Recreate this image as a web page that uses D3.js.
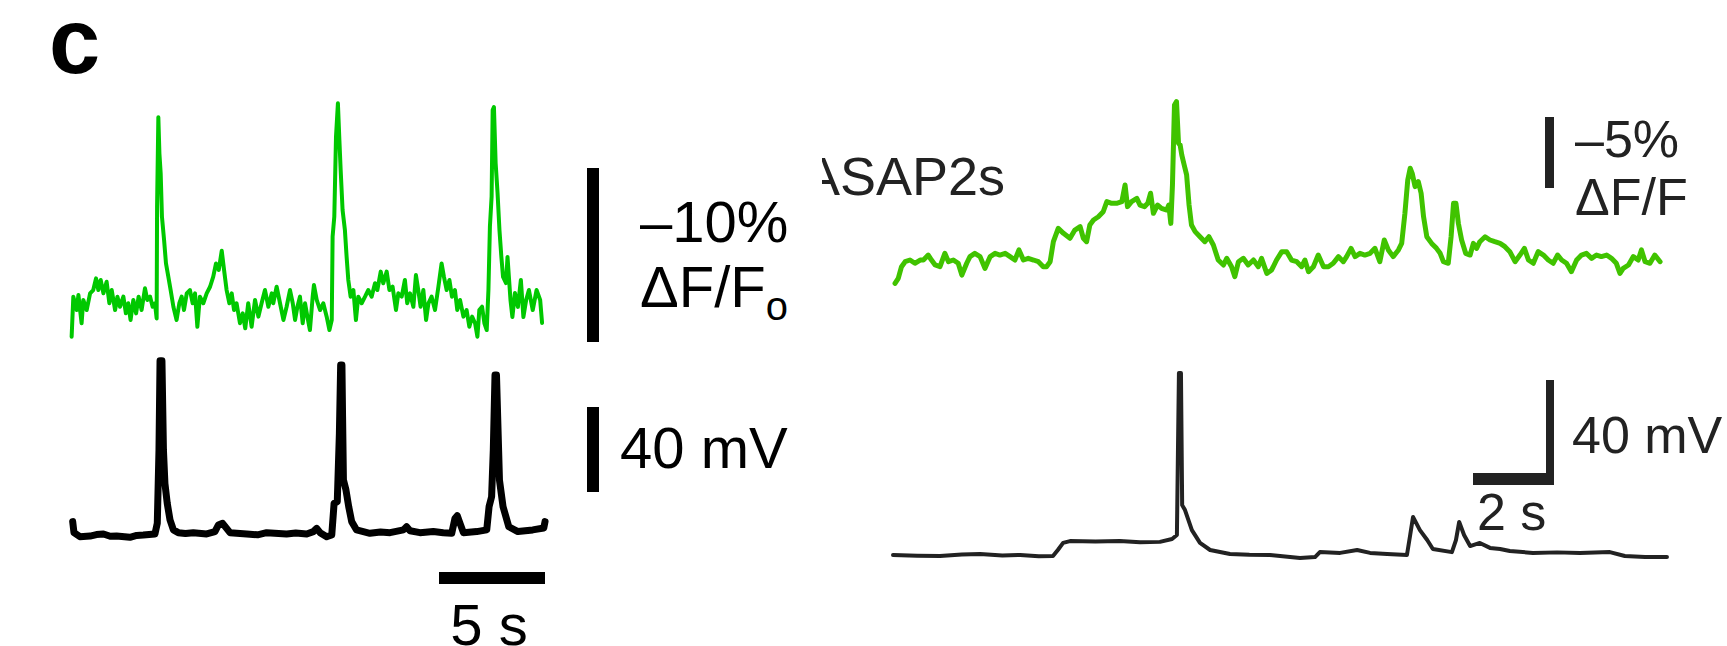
<!DOCTYPE html>
<html>
<head>
<meta charset="utf-8">
<script src="https://cdn.jsdelivr.net/npm/d3@7"></script>
<style>
  body { margin: 0; background: #fff; }
  text { font-family: "Liberation Sans", Arial, sans-serif; }
</style>
</head>
<body>
<script>
// Set the dimensions of the figure
const width = 1727, height = 646;

// Left recording: time (s), ASAP dF/F (%), membrane potential (mV)
const leftGreen = [
  [0.03,1.82],[0.11,-0.48],[0.27,0.29],[0.35,-0.57],[0.50,1.05],[0.58,-0.29],[0.74,0.29],[0.90,-0.67],
  [1.05,-0.86],[1.18,-1.53],[1.29,-0.86],[1.40,-1.44],[1.53,-0.67],[1.68,-1.34],[1.81,-0.10],[1.92,-0.86],
  [2.08,0.29],[2.19,-0.48],[2.31,0.10],[2.47,-0.48],[2.59,0.48],[2.70,-0.10],[2.81,0.86],[2.94,-0.29],
  [3.07,0.48],[3.19,-0.48],[3.33,0.29],[3.49,-0.96],[3.60,-0.29],[3.73,-0.48],[3.85,0.10],[3.96,-0.10],
  [4.04,0.77],[4.06,-5.65],[4.12,-10.79],[4.17,-8.72],[4.23,-7.57],[4.29,-5.08],[4.39,-3.74],[4.48,-2.39],
  [4.59,-1.63],[4.70,-0.86],[4.83,0.10],[4.98,0.86],[5.11,-0.10],[5.22,-0.48],[5.33,0.29],[5.46,-0.67],
  [5.61,-0.86],[5.74,-0.10],[5.85,-0.67],[5.96,1.25],[6.08,-0.48],[6.24,-0.10],[6.40,-0.67],[6.56,-1.05],
  [6.71,-1.63],[6.84,-2.39],[6.97,-2.01],[7.11,-3.12],[7.22,-2.01],[7.34,-0.86],[7.47,-0.10],[7.58,-0.67],
  [7.69,0.29],[7.81,-0.10],[7.97,1.05],[8.10,0.48],[8.22,1.34],[8.36,-0.10],[8.52,1.25],[8.68,-0.29],
  [8.84,0.67],[8.99,-0.10],[9.15,-0.86],[9.31,0.10],[9.47,-0.67],[9.54,-0.10],[9.70,-1.05],[9.86,-0.10],
  [10.02,0.86],[10.17,0.10],[10.33,-0.86],[10.46,-0.10],[10.57,0.86],[10.68,0.10],[10.80,-0.48],[10.93,1.05],
  [11.04,-0.10],[11.15,0.67],[11.27,1.44],[11.40,-0.48],[11.46,-1.15],[11.59,-0.29],[11.75,0.29],[11.90,-0.10],
  [12.06,0.67],[12.19,1.44],[12.30,0.86],[12.34,-3.93],[12.42,-5.08],[12.50,-9.67],[12.59,-11.59],[12.66,-9.48],
  [12.72,-7.76],[12.81,-5.46],[12.92,-4.31],[13.00,-2.78],[13.08,-1.44],[13.19,-0.48],[13.32,-0.86],[13.44,0.86],
  [13.55,-0.48],[13.71,-0.10],[13.87,-0.48],[14.02,-0.86],[14.18,-0.48],[14.34,-1.25],[14.45,-0.86],[14.61,-1.92],
  [14.73,-1.25],[14.89,-1.92],[15.02,-0.86],[15.17,-1.05],[15.33,0.29],[15.44,-0.67],[15.60,-0.48],[15.75,-1.44],
  [15.86,-0.10],[15.99,-0.67],[16.15,0.10],[16.27,-1.72],[16.38,-0.86],[16.49,0.10],[16.62,-0.86],[16.75,0.86],
  [16.86,-0.10],[17.01,-0.48],[17.17,0.29],[17.33,-1.05],[17.48,-2.39],[17.59,-1.63],[17.72,-0.86],[17.85,-1.44],
  [17.97,-0.48],[18.11,-0.86],[18.22,0.29],[18.35,-0.29],[18.51,0.67],[18.66,0.29],[18.79,1.25],[18.92,0.67],
  [19.06,1.05],[19.17,1.82],[19.26,0.29],[19.39,0.10],[19.50,1.05],[19.61,1.44],[19.69,-0.86],[19.76,-4.50],
  [19.84,-6.23],[19.89,-11.21],[19.95,-11.38],[20.03,-8.16],[20.12,-6.44],[20.21,-4.31],[20.30,-2.76],[20.38,-1.61],
  [20.52,-1.26],[20.59,-2.76],[20.73,-0.29],[20.82,0.69],[20.94,-0.69],[21.08,0.11],[21.22,-1.44],[21.34,0.69],
  [21.47,-0.29],[21.60,-0.86],[21.78,0.29],[21.96,-0.86],[22.13,-0.29],[22.22,1.03]
];

const leftVm = [
  [0.08,-53.7],[0.14,-58.9],[0.42,-60.8],[0.90,-60.5],[1.20,-59.8],[1.53,-59.5],[1.85,-60.6],[2.15,-60.5],
  [2.78,-61.1],[3.10,-60.2],[3.41,-60.0],[3.96,-59.5],[4.07,-54.5],[4.15,-20.0],[4.20,22.0],[4.29,22.0],
  [4.36,-20.0],[4.43,-35.7],[4.54,-45.1],[4.67,-52.9],[4.83,-57.6],[5.06,-58.9],[5.40,-59.3],[5.77,-58.9],
  [6.40,-59.5],[6.79,-58.4],[6.95,-55.3],[7.15,-54.5],[7.34,-56.9],[7.50,-58.9],[8.29,-59.5],[8.80,-59.9],
  [9.23,-58.9],[10.17,-59.5],[10.60,-59.1],[11.12,-59.5],[11.43,-58.4],[11.59,-56.9],[11.75,-58.9],[12.06,-60.8],
  [12.30,-60.0],[12.41,-45.1],[12.56,-44.3],[12.66,-12.2],[12.72,20.0],[12.78,20.0],[12.81,-4.3],[12.85,-34.1],
  [12.97,-38.8],[13.10,-46.7],[13.24,-53.7],[13.47,-57.6],[14.10,-59.2],[14.60,-58.6],[15.05,-58.9],[15.68,-57.6],
  [15.83,-56.1],[15.99,-58.0],[16.46,-58.9],[17.09,-58.4],[17.56,-58.9],[17.96,-59.2],[18.11,-52.2],[18.22,-50.9],
  [18.35,-54.5],[18.51,-58.9],[19.14,-58.4],[19.61,-57.6],[19.72,-46.7],[19.84,-42.0],[19.92,-20.0],[20.00,15.3],
  [20.07,15.3],[20.21,-34.1],[20.38,-46.7],[20.65,-56.1],[21.08,-58.4],[21.78,-57.6],[22.30,-56.7],[22.36,-53.7]
];

// Right recording (ASAP2s): time (s), dF/F (%), membrane potential (mV)
const rightGreen = [
  [0.05,1.50],[0.13,1.15],[0.21,0.33],[0.30,-0.02],[0.42,-0.14],[0.54,0.09],[0.67,-0.14],[0.75,-0.14],
  [0.87,-0.49],[0.95,-0.14],[1.04,0.21],[1.16,0.33],[1.28,-0.61],[1.37,-0.02],[1.49,-0.14],[1.61,0.09],
  [1.70,0.92],[1.82,0.09],[1.90,-0.38],[2.02,-0.61],[2.15,-0.38],[2.27,0.45],[2.40,-0.38],[2.52,-0.61],
  [2.64,-0.49],[2.77,-0.61],[2.89,-0.38],[3.01,-0.14],[3.11,-0.85],[3.22,-0.14],[3.34,-0.26],[3.47,-0.14],
  [3.59,-0.02],[3.71,0.33],[3.79,0.33],[3.88,-0.02],[3.96,-1.43],[4.08,-2.37],[4.21,-2.02],[4.37,-1.67],
  [4.49,-2.25],[4.62,-2.49],[4.70,-1.67],[4.78,-1.43],[4.86,-2.61],[4.95,-2.96],[5.07,-3.19],[5.19,-3.54],
  [5.28,-4.25],[5.40,-4.13],[5.52,-4.13],[5.65,-4.25],[5.73,-5.42],[5.79,-3.90],[5.89,-4.25],[6.02,-4.48],
  [6.10,-4.01],[6.21,-3.90],[6.29,-4.13],[6.36,-4.84],[6.43,-3.43],[6.53,-4.01],[6.63,-3.78],[6.76,-3.66],
  [6.81,-4.01],[6.86,-2.72],[6.90,-5.42],[6.95,-11.06],[7.00,-11.29],[7.05,-8.36],[7.09,-8.24],[7.13,-7.54],
  [7.19,-6.83],[7.25,-6.13],[7.31,-4.01],[7.37,-2.61],[7.46,-2.14],[7.58,-1.78],[7.70,-1.43],[7.80,-1.78],
  [7.91,-1.20],[8.03,-0.14],[8.16,0.21],[8.24,-0.26],[8.36,0.33],[8.44,1.03],[8.53,-0.02],[8.65,-0.26],
  [8.77,0.21],[8.90,-0.14],[9.02,0.33],[9.10,-0.26],[9.23,0.80],[9.35,0.56],[9.47,-0.14],[9.60,-0.73],
  [9.72,-0.73],[9.84,-0.14],[9.97,-0.02],[10.09,0.33],[10.17,-0.14],[10.26,0.68],[10.38,0.33],[10.50,-0.49],
  [10.63,0.33],[10.75,0.33],[10.87,0.09],[11.00,-0.38],[11.12,-0.02],[11.20,-0.38],[11.31,-0.96],[11.41,-0.38],
  [11.53,-0.61],[11.65,-0.49],[11.78,-0.61],[11.90,-0.96],[12.02,-0.02],[12.13,-1.55],[12.23,-0.85],[12.35,-0.38],
  [12.48,-0.85],[12.56,-1.31],[12.64,-3.43],[12.71,-5.77],[12.77,-6.60],[12.82,-6.24],[12.89,-5.31],[12.97,-5.66],
  [13.04,-4.84],[13.10,-3.19],[13.18,-1.78],[13.30,-1.31],[13.42,-0.96],[13.51,-0.61],[13.59,-0.02],[13.71,0.09],
  [13.78,-1.78],[13.84,-4.13],[13.90,-4.13],[13.96,-2.72],[14.04,-1.55],[14.14,-0.61],[14.25,-0.49],[14.33,-1.31],
  [14.41,-0.96],[14.49,-1.43],[14.62,-1.78],[14.74,-1.55],[14.86,-1.43],[14.99,-1.31],[15.11,-1.08],[15.23,-0.73],
  [15.36,-0.02],[15.48,-0.49],[15.59,-0.96],[15.69,-0.14],[15.81,0.09],[15.93,-0.73],[16.06,-0.49],[16.18,-0.14],
  [16.30,0.09],[16.41,-0.49],[16.51,-0.14],[16.63,0.09],[16.75,0.68],[16.88,-0.14],[17.00,-0.49],[17.12,-0.61],
  [17.25,-0.26],[17.37,-0.49],[17.49,-0.38],[17.62,-0.49],[17.74,-0.26],[17.86,0.09],[17.95,0.80],[18.03,0.45],
  [18.16,0.21],[18.28,-0.38],[18.40,-0.14],[18.48,-0.85],[18.57,-0.02],[18.69,0.09],[18.81,-0.49],[18.94,-0.02]
];

const rightVm = [
  [0.00,-60.0],[0.60,-60.3],[1.16,-60.4],[1.70,-59.8],[2.15,-59.6],[2.70,-60.2],[3.14,-60.0],[3.60,-60.5],
  [3.95,-60.4],[4.07,-58.1],[4.20,-55.4],[4.37,-54.7],[5.00,-54.9],[5.60,-54.7],[6.10,-55.1],[6.59,-55.0],
  [6.89,-53.9],[7.01,-52.4],[7.06,9.3],[7.11,9.3],[7.14,-41.0],[7.21,-42.9],[7.38,-50.5],[7.58,-55.4],
  [7.83,-58.1],[8.32,-59.6],[8.80,-59.9],[9.31,-60.0],[10.05,-61.1],[10.42,-60.8],[10.54,-58.9],[11.04,-59.2],
  [11.46,-58.1],[11.78,-59.2],[12.20,-59.6],[12.69,-60.0],[12.77,-52.4],[12.84,-45.5],[13.01,-50.5],[13.19,-54.3],
  [13.33,-57.7],[13.80,-58.9],[13.90,-54.3],[13.98,-47.4],[14.10,-52.4],[14.25,-56.6],[14.49,-55.4],[14.74,-57.3],
  [14.99,-57.7],[15.23,-58.5],[15.80,-59.2],[16.40,-59.0],[16.96,-59.2],[17.70,-58.9],[18.07,-60.4],[18.57,-60.8],
  [19.11,-60.8]
];

// Scale bar sizes and labels
const leftBars = { dff: -10, mv: 40, sec: 5 };
const rightBars = { dff: -5, mv: 40, sec: 2 };

// Create the SVG container and set its size
const svg = d3.select("body").append("svg")
    .attr("width", width)
    .attr("height", height);

// Scales for the left traces
const xL = d3.scaleLinear().domain([0, 5]).range([71, 177]);
const yLG = d3.scaleLinear().domain([0, -10]).range([305, 131]);
const yLV = d3.scaleLinear().domain([-60, -20]).range([535, 450]);

// Scales for the right traces
const xR = d3.scaleLinear().domain([0, 2]).range([893, 974]);
const yRG = d3.scaleLinear().domain([0, -5]).range([262, 191]);
const yRV = d3.scaleLinear().domain([-60, -20]).range([555, 450]);

function trace(data, x, y, color, w) {
  svg.append("path")
      .datum(data)
      .attr("fill", "none")
      .attr("stroke", color)
      .attr("stroke-width", w)
      .attr("stroke-linejoin", "round")
      .attr("stroke-linecap", "round")
      .attr("d", d3.line().x(d => x(d[0])).y(d => y(d[1])));
}

trace(leftGreen, xL, yLG, "#00c800", 4);
trace(leftVm, xL, yLV, "#000", 7);
trace(rightGreen, xR, yRG, "#40c300", 5);
trace(rightVm, xR, yRV, "#222", 4);

// Scale bars
const barLen = (s, a, b) => Math.abs(s(a) - s(b));

svg.append("rect").attr("x", 587).attr("y", 168)
    .attr("width", 12).attr("height", barLen(yLG, 0, leftBars.dff)).attr("fill", "#000");
svg.append("rect").attr("x", 587).attr("y", 407)
    .attr("width", 12).attr("height", barLen(yLV, -60, -60 + leftBars.mv)).attr("fill", "#000");
svg.append("rect").attr("x", 439).attr("y", 572)
    .attr("width", barLen(xL, 0, leftBars.sec)).attr("height", 12).attr("fill", "#000");

svg.append("rect").attr("x", 1545).attr("y", 117)
    .attr("width", 9).attr("height", barLen(yRG, 0, rightBars.dff)).attr("fill", "#222");
const rmv = barLen(yRV, -60, -60 + rightBars.mv);
svg.append("rect").attr("x", 1546).attr("y", 485 - rmv)
    .attr("width", 8).attr("height", rmv).attr("fill", "#222");
const rs = barLen(xR, 0, rightBars.sec);
svg.append("rect").attr("x", 1554 - rs).attr("y", 473)
    .attr("width", rs).attr("height", 12).attr("fill", "#222");

// Labels
function label(x, y, txt, size, color, anchor) {
  return svg.append("text")
      .attr("x", x).attr("y", y)
      .attr("font-size", size)
      .attr("fill", color || "#000")
      .attr("text-anchor", anchor || "start")
      .text(txt);
}

label(49, 73, "c", 92).attr("font-weight", "bold");

label(640, 242, "\u2013" + Math.abs(leftBars.dff) + "%", 58);
const fo = label(640, 307, "\u0394F/F", 58);
fo.append("tspan").attr("font-size", 40).attr("dy", 13).text("o");
label(620, 468, leftBars.mv + " mV", 58);
label(489, 645, leftBars.sec + " s", 58, "#000", "middle");

// ASAP2s label, cut at its left edge as in the figure
svg.append("clipPath").attr("id", "cut")
  .append("rect").attr("x", 822).attr("y", 100).attr("width", 300).attr("height", 150);
label(804, 195, "ASAP2s", 54, "#222").attr("clip-path", "url(#cut)");

label(1575, 157, "\u2013" + Math.abs(rightBars.dff) + "%", 52, "#222");
label(1575, 215, "\u0394F/F", 52, "#222");
label(1572, 453, rightBars.mv + " mV", 52, "#222");
label(1477, 530, rightBars.sec + " s", 52, "#222");
</script>
</body>
</html>
